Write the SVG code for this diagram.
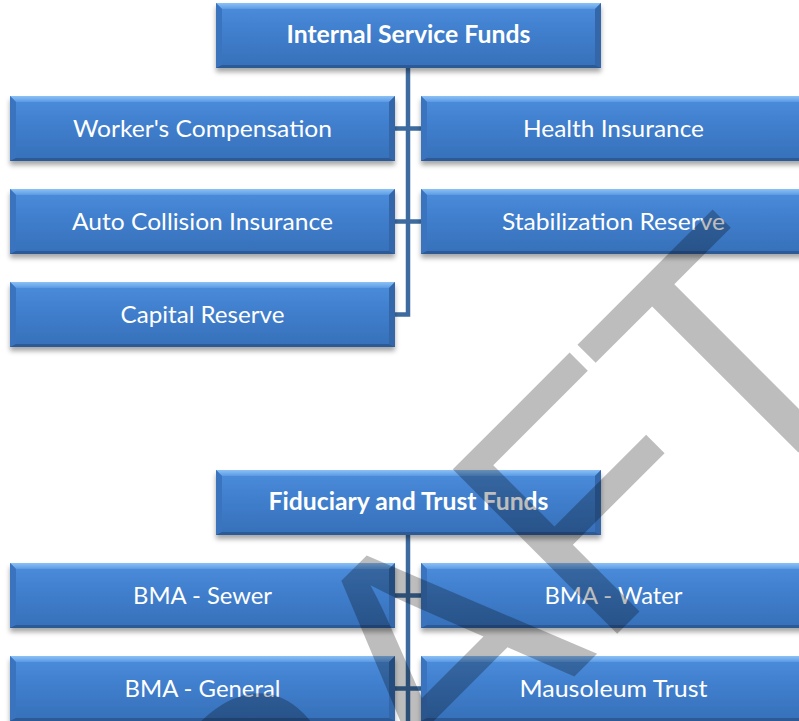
<svg xmlns="http://www.w3.org/2000/svg" xmlns:xlink="http://www.w3.org/1999/xlink" width="799" height="721" viewBox="0 0 799 721">
<style>
.t{font-family:Lato,"Open Sans","Liberation Sans",sans-serif;font-size:24px;fill:#fff;text-anchor:middle}
.b{font-weight:bold}
.c{fill:none;stroke:#3D6B9F;stroke-width:4.5;stroke-linejoin:miter}
.wm{font-family:"Liberation Sans",Arial,sans-serif;font-size:338px;fill:#000;fill-opacity:0.26}
</style>
<defs>
<linearGradient id="body" x1="0" y1="0" x2="0" y2="1">
<stop offset="0" stop-color="#4B8DDC"/>
<stop offset="0.5" stop-color="#3F7DCB"/>
<stop offset="1" stop-color="#3670B9"/>
</linearGradient>
<linearGradient id="topb" x1="0" y1="0" x2="0" y2="1">
<stop offset="0" stop-color="#8DC1F6"/>
<stop offset="1" stop-color="#5A9AE4"/>
</linearGradient>
<filter id="sh" x="-5%" y="-20%" width="110%" height="160%">
<feDropShadow dx="0" dy="4" stdDeviation="2.5" flood-color="#000" flood-opacity="0.35"/>
</filter>
<g id="box">
<rect width="385" height="65" fill="url(#body)" filter="url(#sh)"/>
<polygon points="0,0 385,0 379,6 6,6" fill="url(#topb)"/>
<polygon points="0,0 6,6 6,62 0,65" fill="#3A74BF"/>
<polygon points="385,0 385,65 379,62 379,6" fill="#3367AA"/>
<polygon points="0,65 385,65 379,62 6,62" fill="#2B5A97"/>
</g>
</defs>
<rect width="799" height="721" fill="#fff"/>
<g id="connectors">
<path class="c" d="M408,68 V314.5 H395"/>
<path class="c" d="M395,128.5 H421 M395,221.5 H421"/>
<path class="c" d="M408,535 V721 M395,595.5 H421 M395,688.5 H421"/>
</g>
<g id="internal-service-funds"><use xlink:href="#box" x="216" y="3"/><text class="t b" x="408.5" y="43" textLength="244" lengthAdjust="spacingAndGlyphs">Internal Service Funds</text></g>
<g id="workers-compensation"><use xlink:href="#box" x="10" y="96"/><text class="t" x="202.5" y="137" textLength="259" lengthAdjust="spacingAndGlyphs">Worker's Compensation</text></g>
<g id="health-insurance"><use xlink:href="#box" x="421" y="96"/><text class="t" x="613.5" y="137" textLength="181" lengthAdjust="spacingAndGlyphs">Health Insurance</text></g>
<g id="auto-collision-insurance"><use xlink:href="#box" x="10" y="189"/><text class="t" x="202.5" y="230" textLength="261" lengthAdjust="spacingAndGlyphs">Auto Collision Insurance</text></g>
<g id="stabilization-reserve"><use xlink:href="#box" x="421" y="189"/><text class="t" x="613.5" y="230" textLength="223" lengthAdjust="spacingAndGlyphs">Stabilization Reserve</text></g>
<g id="capital-reserve"><use xlink:href="#box" x="10" y="282"/><text class="t" x="202.5" y="323" textLength="164" lengthAdjust="spacingAndGlyphs">Capital Reserve</text></g>
<g id="fiduciary-and-trust-funds"><use xlink:href="#box" x="216" y="470"/><text class="t b" x="408.5" y="510" textLength="280" lengthAdjust="spacingAndGlyphs">Fiduciary and Trust Funds</text></g>
<g id="bma-sewer"><use xlink:href="#box" x="10" y="563"/><text class="t" x="202.5" y="604" textLength="139" lengthAdjust="spacingAndGlyphs">BMA - Sewer</text></g>
<g id="bma-water"><use xlink:href="#box" x="421" y="563"/><text class="t" x="613.5" y="604" textLength="138" lengthAdjust="spacingAndGlyphs">BMA - Water</text></g>
<g id="bma-general"><use xlink:href="#box" x="10" y="656"/><text class="t" x="202.5" y="697" textLength="156" lengthAdjust="spacingAndGlyphs">BMA - General</text></g>
<g id="mausoleum-trust"><use xlink:href="#box" x="421" y="656"/><text class="t" x="613.5" y="697" textLength="188" lengthAdjust="spacingAndGlyphs">Mausoleum Trust</text></g>
<g id="watermark"><text class="wm" x="93" y="1158" transform="rotate(-45 93 1158)">DRAF<tspan dx="-10">T</tspan></text></g>
</svg>
